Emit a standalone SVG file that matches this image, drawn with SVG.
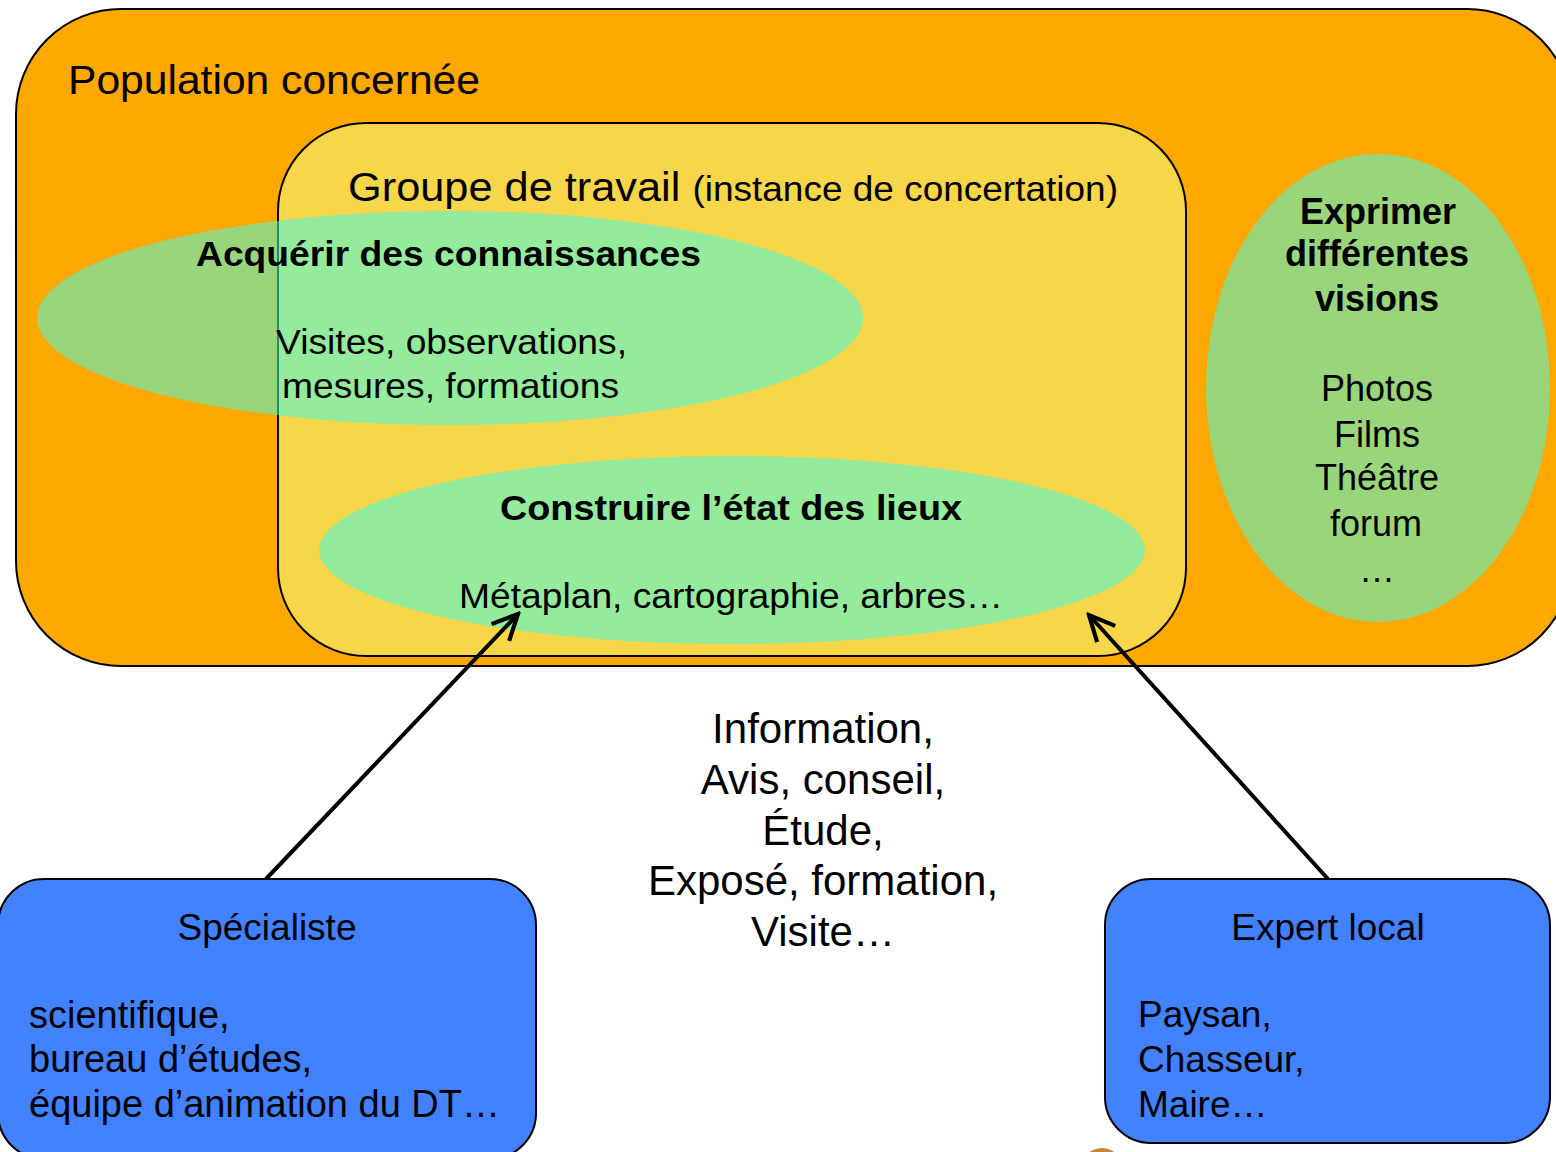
<svg xmlns="http://www.w3.org/2000/svg" width="1556" height="1152" viewBox="0 0 1556 1152">
<defs>
<style>
text{font-family:"Liberation Sans",Arial,sans-serif;fill:#000}
.b{font-weight:bold}
.c{text-anchor:middle}
.ell{fill:rgb(68,253,226);fill-opacity:0.544}
.box{stroke:#000;stroke-width:2}
.blue{fill:#4281FF;stroke:#000;stroke-width:2}
.arr{stroke:#000;stroke-width:4;fill:none}
</style>
<marker id="ah2" viewBox="0 0 10 10" refX="9" refY="5" markerWidth="8" markerHeight="8" orient="auto" markerUnits="strokeWidth">
<path d="M1,1.2 L9,5 L1,8.8" fill="none" stroke="#000" stroke-width="1.3"/>
</marker>
</defs>
<rect width="1556" height="1152" fill="#fff"/>
<g id="population">
<rect class="box" x="16" y="9" width="1556" height="657" rx="105" fill="#FFA800"/>
<text x="68" y="94" font-size="41" textLength="412" lengthAdjust="spacingAndGlyphs">Population concernée</text>
</g>
<g id="groupe">
<rect class="box" x="278" y="123" width="908" height="533" rx="88" fill="#F7D64A"/>
<text x="348" y="201" font-size="41" textLength="770" lengthAdjust="spacingAndGlyphs">Groupe de travail <tspan font-size="35">(instance de concertation)</tspan></text>
</g>
<g id="acquerir">
<ellipse class="ell" cx="450" cy="318" rx="413" ry="107"/>
<text class="b" x="196" y="266" font-size="35" textLength="505" lengthAdjust="spacingAndGlyphs">Acquérir des connaissances</text>
<text x="276" y="354" font-size="35" textLength="351" lengthAdjust="spacingAndGlyphs">Visites, observations,</text>
<text x="282" y="398" font-size="35" textLength="337" lengthAdjust="spacingAndGlyphs">mesures, formations</text>
</g>
<g id="construire">
<ellipse class="ell" cx="732" cy="550" rx="413" ry="94"/>
<text class="b" x="500" y="520" font-size="35" textLength="462" lengthAdjust="spacingAndGlyphs">Construire l’état des lieux</text>
<text x="459" y="608" font-size="35" textLength="544" lengthAdjust="spacingAndGlyphs">Métaplan, cartographie, arbres…</text>
</g>
<g id="exprimer">
<ellipse class="ell" cx="1378" cy="388" rx="172" ry="234"/>
<text class="b c" x="1378" y="224" font-size="36">Exprimer</text>
<text class="b c" x="1377" y="266" font-size="36">différentes</text>
<text class="b c" x="1377" y="311" font-size="36">visions</text>
<text class="c" x="1377" y="401" font-size="36">Photos</text>
<text class="c" x="1377" y="447" font-size="36">Films</text>
<text class="c" x="1377" y="490" font-size="36">Théâtre</text>
<text class="c" x="1376" y="536" font-size="36">forum</text>
<text class="c" x="1377" y="582" font-size="36">…</text>
</g>
<g id="flux-label">
<text class="c" x="823" y="743" font-size="42">Information,</text>
<text class="c" x="823" y="794" font-size="42">Avis, conseil,</text>
<text class="c" x="823" y="845" font-size="42">Étude,</text>
<text class="c" x="823" y="895" font-size="42">Exposé, formation,</text>
<text class="c" x="823" y="946" font-size="42">Visite…</text>
</g>
<g id="connectors">
<line class="arr" x1="266" y1="879" x2="518" y2="614" marker-end="url(#ah2)"/>
<line class="arr" x1="1328" y1="879" x2="1089" y2="615" marker-end="url(#ah2)"/>
</g>
<g id="specialiste">
<rect class="blue" x="-2" y="879" width="538" height="280" rx="46"/>
<text class="c" x="267" y="940" font-size="37">Spécialiste</text>
<text x="29" y="1028" font-size="38">scientifique,</text>
<text x="29" y="1072" font-size="38">bureau d’études,</text>
<text x="29" y="1117" font-size="38" textLength="471" lengthAdjust="spacingAndGlyphs">équipe d’animation du DT…</text>
</g>
<g id="expert">
<rect class="blue" x="1105" y="879" width="445" height="264" rx="46"/>
<text class="c" x="1328" y="940" font-size="37">Expert local</text>
<text x="1138" y="1027" font-size="37">Paysan,</text>
<text x="1138" y="1072" font-size="37">Chasseur,</text>
<text x="1138" y="1117" font-size="37">Maire…</text>
</g>
<circle cx="1102" cy="1168" r="20" fill="#C4873A"/>
</svg>
